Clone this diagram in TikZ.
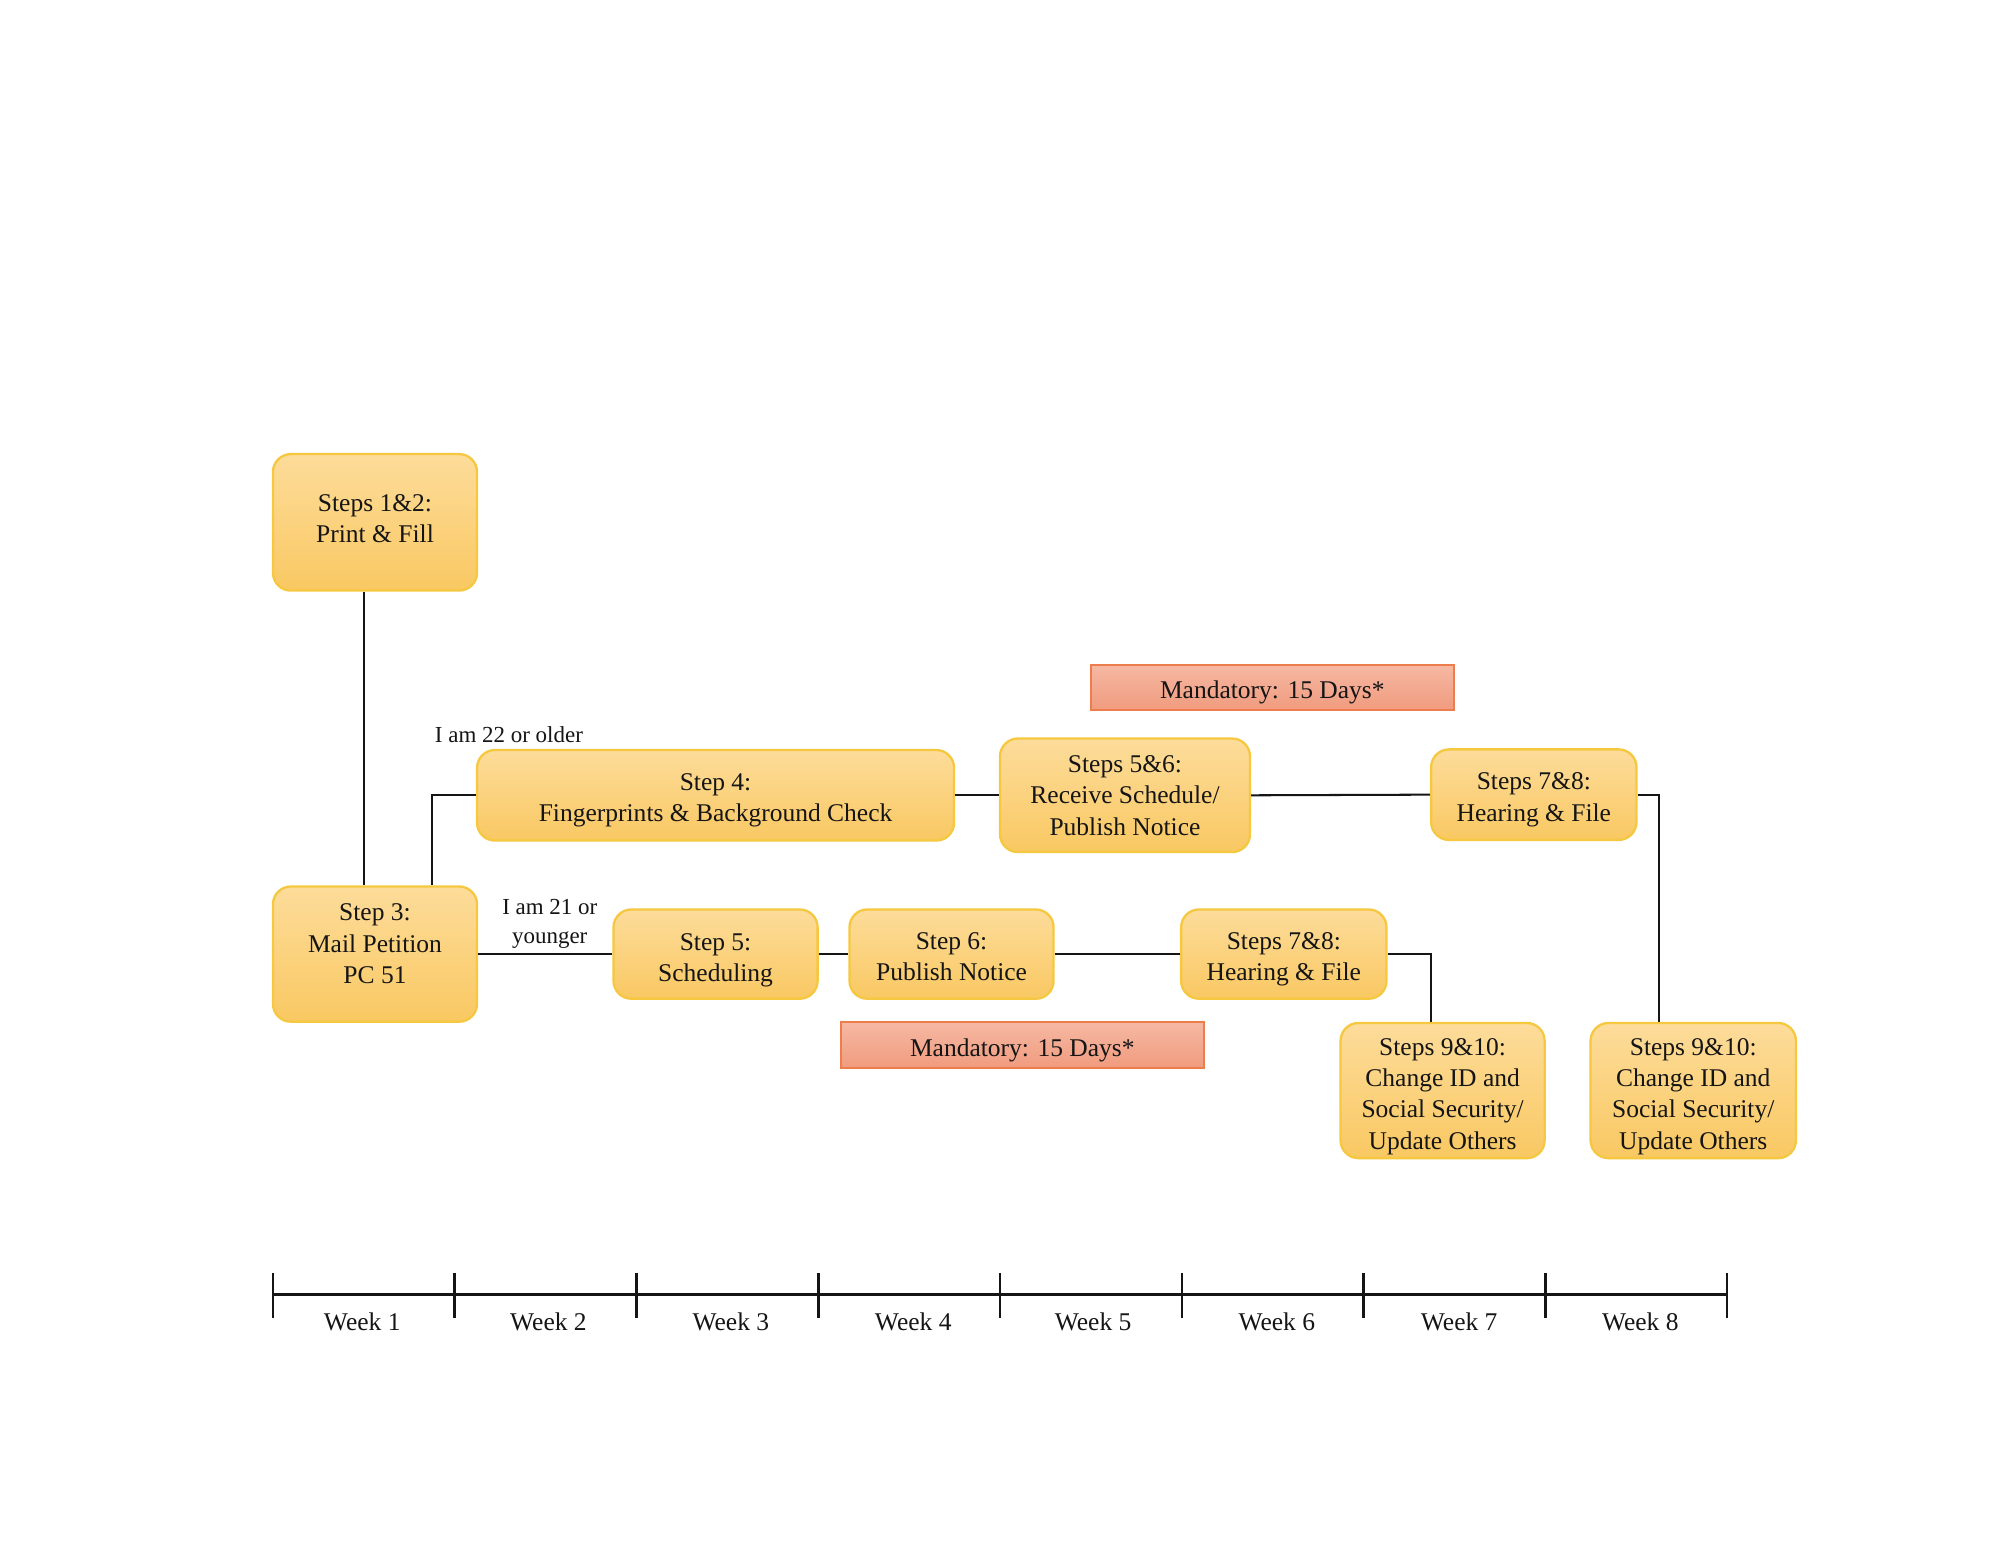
\documentclass[tikz,border=0pt]{standalone}
\usepackage{fontspec}
\setmainfont{Liberation Serif}
\definecolor{boxtop}{HTML}{FDDC9A}
\definecolor{boxbot}{HTML}{F9C862}
\definecolor{boxline}{HTML}{F5C840}
\definecolor{mtop}{HTML}{F6B8A3}
\definecolor{mbot}{HTML}{F09B7E}
\definecolor{mline}{HTML}{EE7D4E}
\definecolor{ink}{HTML}{151515}
\begin{document}
\begin{tikzpicture}[x=0.5pt,y=-0.5pt,
  stepbox/.style={draw=boxline,line width=0.9pt,rounded corners=7pt,top color=boxtop,bottom color=boxbot,inner sep=0pt},
  steptext/.style={align=center,inner sep=0pt,text=ink,font=\fontsize{10}{12.3}\selectfont},
  mandbox/.style={draw=mline,line width=0.8pt,top color=mtop,bottom color=mbot,
    minimum width=142.5pt,minimum height=18pt,inner sep=0pt},
  lbl/.style={align=center,inner sep=0pt,text=ink,font=\fontsize{9}{11.5}\selectfont},
  weektext/.style={inner sep=0pt,text=ink,font=\fontsize{10}{12}\selectfont},
  conn/.style={draw=ink,line width=0.8pt},
  axis/.style={draw=ink,line width=1pt}]
\useasboundingbox (0,0) rectangle (1568,1211.3);
\fill[white] (0,0) rectangle (1568,1211.3);

% boxes
\node[stepbox,minimum width=80pt,minimum height=53.5pt] (b12) at (294,409.5) {};
\node[steptext] (b12t) at ([yshift=1.5pt]b12.center) {Steps 1\&2:\\Print \& Fill};
\node[stepbox,minimum width=80pt,minimum height=53pt] (b3) at (294,748) {};
\node[steptext] (b3t) at ([yshift=4pt]b3.center) {Step 3:\\Mail Petition\\PC 51};
\node[stepbox,minimum width=187pt,minimum height=35.5pt] (b4) at (561,623.5) {};
\node[steptext] (b4t) at ([yshift=-2pt]b4.center) {Step 4:\\Fingerprints \& Background Check};
\node[stepbox,minimum width=98pt,minimum height=44.5pt] (b56) at (882,623.5) {};
\node[steptext] (b56t) at (b56.center) {Steps 5\&6:\\Receive Schedule/\\Publish Notice};
\node[stepbox,minimum width=80.5pt,minimum height=35.5pt] (b78a) at (1202.5,623) {};
\node[steptext] (b78at) at ([yshift=-2pt]b78a.center) {Steps 7\&8:\\Hearing \& File};
\node[stepbox,minimum width=80pt,minimum height=35pt] (b5) at (561,748) {};
\node[steptext] (b5t) at ([yshift=-2.5pt]b5.center) {Step 5:\\Scheduling};
\node[stepbox,minimum width=80pt,minimum height=35pt] (b6) at (746,748) {};
\node[steptext] (b6t) at ([yshift=-1pt]b6.center) {Step 6:\\Publish Notice};
\node[stepbox,minimum width=80.5pt,minimum height=35pt] (b78b) at (1006.5,748) {};
\node[steptext] (b78bt) at ([yshift=-2pt]b78b.center) {Steps 7\&8:\\Hearing \& File};
\node[stepbox,minimum width=80pt,minimum height=53pt] (b910a) at (1131,855) {};
\node[steptext] (b910at) at ([yshift=-2.25pt]b910a.center) {Steps 9\&10:\\Change ID and\\Social Security/\\Update Others};
\node[stepbox,minimum width=80.5pt,minimum height=53pt] (b910b) at (1327.5,855) {};
\node[steptext] (b910bt) at ([yshift=-2.25pt]b910b.center) {Steps 9\&10:\\Change ID and\\Social Security/\\Update Others};
\node[mandbox] (m1) at (997.5,539) {};
\node[steptext] (m1t) at ([yshift=-2pt]m1.center) {Mandatory: 15 Days*};
\node[mandbox] (m2) at (801.5,819.5) {};
\node[steptext] (m2t) at ([yshift=-2pt]m2.center) {Mandatory: 15 Days*};

% labels
\node[lbl] (l22) at (399,576) {I am 22 or older};
\node[lbl] (l21) at (431,724.5) {I am 21 or\\younger};

% connectors
\draw[conn] ([xshift=-4.5pt]b12.south) -- ([xshift=-4.5pt]b3.north);
\draw[conn] ([xshift=22.5pt]b3.north) |- (b4.west);
\draw[conn] (b3.east) -- (b5.west);
\draw[conn] (b5.east) -- (b6.west);
\draw[conn] (b6.east) -- (b78b.west);
\draw[conn] (b78b.east) -| ([xshift=-4.5pt]b910a.north);
\draw[conn] (b4.east) -- (b56.west);
\draw[conn] (b56.east) -- (b78a.west);
\draw[conn] (b78a.east) -| ([xshift=-13.5pt]b910b.north);

% time axis
\coordinate (a0) at (214,1015);
\coordinate (a8) at (1354,1015);
\draw[axis] (a0) -- (a8);
\foreach \i in {0,...,8}{
  \draw[axis] (214+142.5*\i,998) -- (214+142.5*\i,1033);
}
\foreach \n/\x in {1/284,2/430,3/573,4/716,5/857,6/1001,7/1144,8/1286}{
  \node[weektext,anchor=base] (w\n) at (\x,1043) {Week \n};
}
\end{tikzpicture}
\end{document}
